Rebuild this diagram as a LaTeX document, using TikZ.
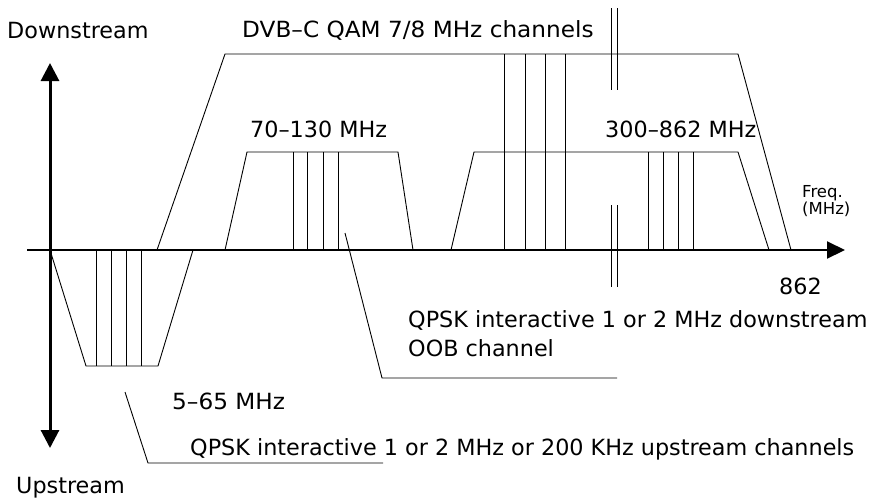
\documentclass[tikz,border=0pt]{standalone}
\usepackage{fontspec}
\setmainfont{DejaVu Sans}
\usetikzlibrary{arrows.meta}
\begin{document}
\begin{tikzpicture}[x=1pt,y=-1pt,
  ln/.style={line width=0.9pt},
  lbl/.style={anchor=base west, inner sep=0pt, font=\fontsize{22.3}{22.3}\selectfont},
  wide/.style={font=\fontsize{22.3}{22.3}\selectfont\addfontfeature{FakeStretch=1.04}},
  sm/.style={anchor=base west, inner sep=0pt, font=\fontsize{16.5}{16.5}\selectfont},
  haxis/.style={line width=2pt, -{Triangle[length=18pt,width=17pt]}},
  vaxis/.style={line width=3pt, -{Triangle[length=18pt,width=18pt]}},
]
\useasboundingbox (0,0) rectangle (877,499);
% axes
\coordinate (O) at (50,250);
\coordinate (xl) at (27,250);
\coordinate (xr) at (845,250);
\coordinate (yt) at (50,63);
\coordinate (yb) at (50,448);
\draw[haxis] (xl) -- (xr);
\draw[vaxis] (O) -- (yt);
\draw[vaxis] (O) -- (yb);
% DVB-C big band
\draw[ln] (157,250) -- (225,54) -- (738,54) -- (791,250);
\foreach \x in {504,525,545,565} \draw[ln] (\x,54) -- (\x,250);
% 70-130 band
\draw[ln] (225,250) -- (247,152) -- (398,152) -- (413,250);
\foreach \x in {293,307,323,338} \draw[ln] (\x,152) -- (\x,250);
% 300-862 band
\draw[ln] (451,250) -- (474,152) -- (738,152) -- (769,250);
\foreach \x in {648,663,678,693} \draw[ln] (\x,152) -- (\x,250);
% upstream band
\draw[ln] (O) -- (86,366) -- (158,366) -- (193,250);
\foreach \x in {96,111,126,141} \draw[ln] (\x,250) -- (\x,366);
% break marks
\foreach \x in {611,617} {
  \draw[ln] (\x,8) -- (\x,90);
  \draw[ln] (\x,205) -- (\x,287);
}
% labels
\node[lbl] (down) at (7,38) {Downstream};
\node[lbl] (up) at (16,493) {Upstream};
\node[lbl,wide] (dvb) at (242,37) {DVB–C QAM 7/8 MHz channels};
\node[lbl] (b70) at (250,137) {70–130 MHz};
\node[lbl] (b300) at (605,137) {300–862 MHz};
\node[sm] (freq) at (802,197) {Freq.};
\node[sm] (mhz) at (802,214) {(MHz)};
\node[lbl] (n862) at (779,294) {862};
\node[lbl] (qd) at (408,327) {QPSK interactive 1 or 2 MHz downstream};
\node[lbl] (oob) at (408,356) {OOB channel};
\node[lbl,wide] (b5) at (172,409) {5–65 MHz};
\node[lbl] (qu) at (190,455) {QPSK interactive 1 or 2 MHz or 200 KHz upstream channels};
% leaders
\coordinate (oobs) at (345,233);
\coordinate (oobk) at (382,378);
\coordinate (oobe) at (617,378);
\draw[ln] (oobs) -- (oobk) -- (oobe);
\coordinate (ups) at (125,392);
\coordinate (upk) at (148,463);
\coordinate (upe) at (383,463);
\draw[ln] (ups) -- (upk) -- (upe);
\end{tikzpicture}
\end{document}
